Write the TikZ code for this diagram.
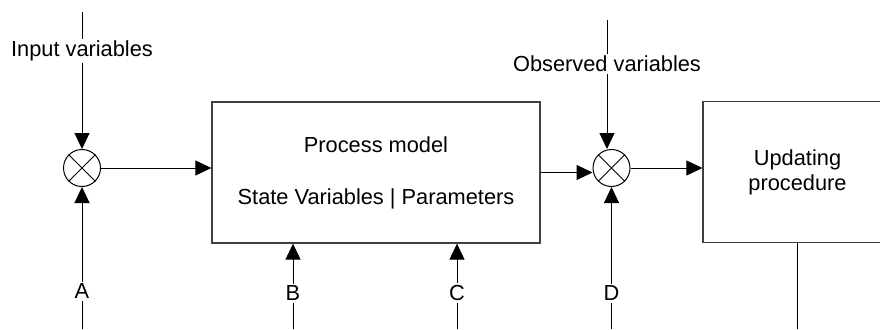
\documentclass[tikz,border=0pt]{standalone}
\usepackage{fontspec}
\setmainfont{Liberation Sans}
\usetikzlibrary{arrows.meta}
\begin{document}
\begin{tikzpicture}[x=1pt,y=-1pt,
  every node/.style={font=\fontsize{21.8}{25}\selectfont},
  arr/.style={line width=1pt,-{Triangle[length=16pt,width=15pt]}},
  plain/.style={line width=1pt},
  blockbox/.style={draw=black!75,line width=1.3pt,inner sep=0pt,align=center},
  mixer/.style={circle,draw,line width=1pt,minimum size=37pt,inner sep=0pt},
  lab/.style={fill=white,inner sep=2pt}]
\useasboundingbox (0,0) rectangle (880,329);
\clip (0,0) rectangle (880,329);

% blocks
\node[blockbox,minimum width=328pt,minimum height=141pt] (pm) at (376,172.5)
  {Process model\\[27pt]State Variables | Parameters};
\node[blockbox,minimum width=189pt,minimum height=141pt] (up) at (797.5,172)
  {Updating\\procedure};

% summing junctions
\node[mixer] (ic) at (82,168) {};
\draw[line width=0.8pt] (ic.north east) -- (ic.south west) (ic.north west) -- (ic.south east);
\node[mixer] (oc) at (611.5,168) {};
\draw[line width=0.8pt] (oc.north east) -- (oc.south west) (oc.north west) -- (oc.south east);

% free ends of the signal lines
\coordinate (tin) at (82,12);
\coordinate (ta) at (82,329);
\coordinate (tb) at (293,329);
\coordinate (tc) at (457,329);
\coordinate (tobs) at (607,20);
\coordinate (td) at (611.5,329);
\coordinate (tout) at (797,329);

% connectors
\draw[arr] (tin) -- (ic.north);
\draw[arr] (ta) -- (ic.south);
\draw[arr] (ic.east) -- (ic.east -| pm.west);
\draw[arr] (tb) -- (tb |- pm.south);
\draw[arr] (tc) -- (tc |- pm.south);
\draw[arr] (pm.east) -- (pm.east -| oc.west);
\draw[arr] (tobs) -- (tobs |- oc.north);
\draw[arr] (td) -- (oc.south);
\draw[arr] (oc.east) -- (oc.east -| up.west);
\draw[plain] (up.south -| tout) -- (tout);

% labels on the lines
\node[lab] (lin) at (82,51) {Input variables};
\node[lab] (la) at (82,291) {A};
\node[lab] (lb) at (293,293) {B};
\node[lab] (lc) at (457,293) {C};
\node[lab] (lobs) at (607,64) {Observed variables};
\node[lab] (ld) at (611.5,293) {D};
\end{tikzpicture}
\end{document}
